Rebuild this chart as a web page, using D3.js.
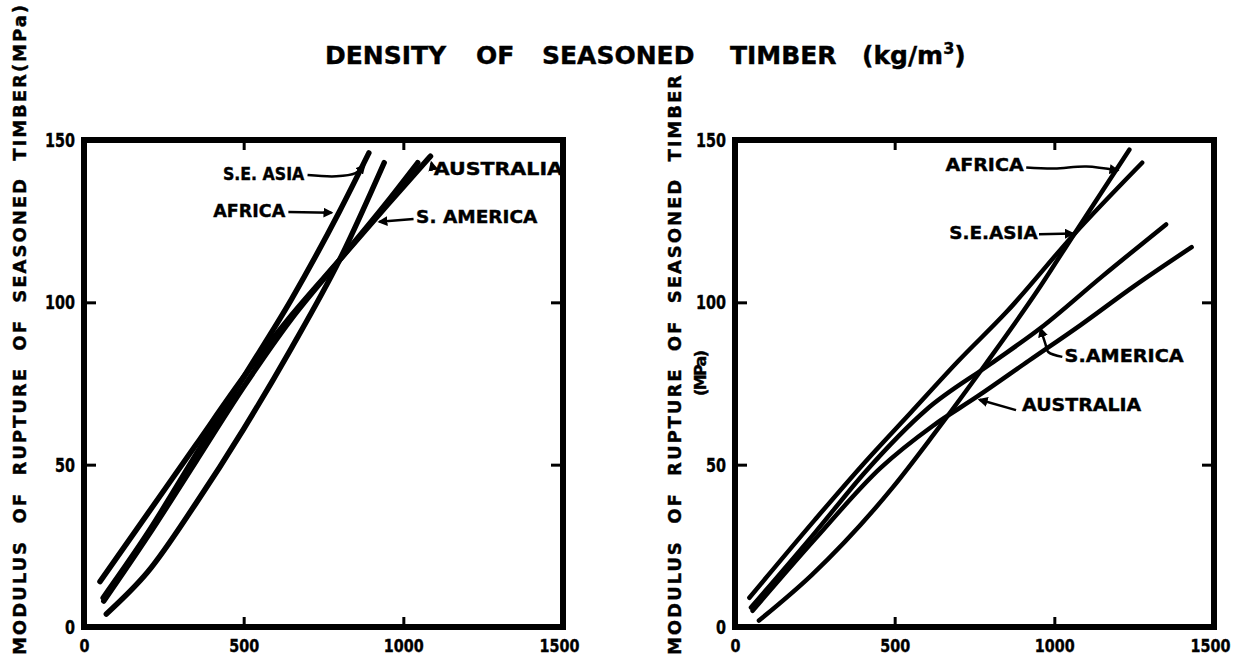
<!DOCTYPE html>
<html>
<head>
<meta charset="utf-8">
<script src="https://cdn.jsdelivr.net/npm/d3@7"></script>
<style>
  body { margin: 0; background: #fff; }
  text { font-family: "DejaVu Sans", "Liberation Sans", sans-serif; font-weight: bold; fill: #000; stroke: #000; stroke-width: 0.4; }
</style>
</head>
<body>
<div id="chart"></div>
<script>
// axis values
const densityTicks = [0, 500, 1000, 1500];
const morTicks = [0, 50, 100, 150];

// left panel: [density kg/m3, modulus of rupture MPa]
const leftAfrica = [[70, 4], [200, 17], [350, 38], [500, 61], [650, 86], [800, 113], [940, 143]];
const leftSeAsia = [[60, 9], [200, 29], [350, 53], [500, 77], [650, 101], [800, 128], [892, 146]];
const leftSAmerica = [[62, 8], [200, 28], [350, 51], [500, 74], [650, 95], [800, 113], [950, 131], [1045, 143]];
const leftAustralia = [[50, 14], [200, 35], [350, 56], [500, 77], [650, 96], [800, 113], [950, 130], [1085, 145]];

// right panel
const rightAfrica = [[75, 2], [240, 16], [494, 43], [620, 59], [785, 81], [950, 104], [1062, 121], [1235, 147]];
const rightSeAsia = [[45, 9], [250, 33], [400, 50], [550, 66], [700, 82], [850, 97], [1062, 121], [1275, 143]];
const rightSAmerica = [[50, 6], [250, 29], [410, 48], [600, 67], [800, 81], [956, 92], [1150, 108], [1350, 124]];
const rightAustralia = [[55, 5], [250, 27], [456, 49], [620, 62], [759, 71], [920, 82], [1082, 93], [1250, 105], [1430, 117]];

// region labels, in data units (start density, end density, MOR)
const leftLabels = [
  { text: "S.E. ASIA", d0: 435, d1: 690, v: 139.6 },
  { text: "AFRICA", d0: 405, d1: 630, v: 128.3 },
  { text: "AUSTRALIA", d0: 1095, d1: 1500, v: 141.2 },
  { text: "S. AMERICA", d0: 1040, d1: 1420, v: 126.3 }
];
const leftPointers = [
  [[700, 139.2], [790, 138.8], [850, 139.8], [878, 142.2]],
  [[640, 127.8], [775, 127.6]],
  [[1092, 141.4], [1088, 143]],
  [[1032, 125.7], [925, 124.8]]
];
const rightLabels = [
  { text: "AFRICA", d0: 659, d1: 904, v: 142.3 },
  { text: "S.E.ASIA", d0: 671, d1: 948, v: 121.4 },
  { text: "S.AMERICA", d0: 1032, d1: 1405, v: 83.7 },
  { text: "AUSTRALIA", d0: 899, d1: 1272, v: 68.4 }
];
const rightPointers = [
  [[912, 141.5], [1000, 141.2], [1100, 141.8], [1198, 140.6]],
  [[952, 121], [1058, 121.2]],
  [[1025, 83.2], [981, 84.7], [972, 87.2], [957, 91.8]],
  [[880, 66.8], [766, 70]]
];

const width = 1237, height = 659;
const svg = d3.select("#chart").append("svg")
  .attr("width", width)
  .attr("height", height);

svg.append("defs").append("marker")
  .attr("id", "arrow")
  .attr("viewBox", "0 0 10 10")
  .attr("refX", 8).attr("refY", 5)
  .attr("markerWidth", 4).attr("markerHeight", 4)
  .attr("orient", "auto")
  .append("path")
  .attr("d", "M0,0L10,5L0,10z")
  .attr("fill", "#000");

const y = d3.scaleLinear().domain([0, 150]).range([627, 140]);

function drawPanel(xRange, series, labels, pointers, lineWidth) {
  const x = d3.scaleLinear().domain([0, 1500]).range(xRange);
  const g = svg.append("g");

  const styleAxis = sel => {
    sel.select(".domain").remove();
    sel.selectAll("line").attr("stroke", "#000").attr("stroke-width", 3);
  };

  // left axis with labels, inward ticks
  g.append("g")
    .attr("transform", `translate(${x(0)},0)`)
    .call(d3.axisLeft(y).tickValues(morTicks).tickSize(-12).tickPadding(9).tickFormat(d3.format("d")))
    .call(styleAxis)
    .selectAll("text")
    .attr("font-size", 20)
    .attr("textLength", d => String(d).length * 10)
    .attr("lengthAdjust", "spacingAndGlyphs");

  // bottom axis with labels
  g.append("g")
    .attr("transform", `translate(0,${y(0)})`)
    .call(d3.axisBottom(x).tickValues(densityTicks).tickSize(-10).tickPadding(12).tickFormat(d3.format("d")))
    .call(styleAxis)
    .selectAll("text")
    .attr("font-size", 18)
    .attr("dx", d => d === 1500 ? -4 : 0)
    .attr("textLength", d => String(d).length * 10)
    .attr("lengthAdjust", "spacingAndGlyphs");

  // top and right: ticks only
  g.append("g")
    .attr("transform", `translate(0,${y(150)})`)
    .call(d3.axisTop(x).tickValues([500, 1000]).tickSize(-10).tickFormat(""))
    .call(styleAxis);
  g.append("g")
    .attr("transform", `translate(${x(1500)},0)`)
    .call(d3.axisRight(y).tickValues([50, 100]).tickSize(-12).tickFormat(""))
    .call(styleAxis);

  // frame
  g.append("rect")
    .attr("x", x(0))
    .attr("y", y(150))
    .attr("width", x(1500) - x(0))
    .attr("height", y(0) - y(150))
    .attr("fill", "none")
    .attr("stroke", "#000")
    .attr("stroke-width", 6);

  const line = d3.line()
    .x(d => x(d[0]))
    .y(d => y(d[1]))
    .curve(d3.curveMonotoneX);

  g.selectAll(".series")
    .data(series)
    .enter()
    .append("path")
    .attr("class", "series")
    .attr("d", line)
    .attr("fill", "none")
    .attr("stroke", "#000")
    .attr("stroke-width", lineWidth)
    .attr("stroke-linecap", "round");

  const pointerLine = d3.line()
    .x(d => x(d[0]))
    .y(d => y(d[1]))
    .curve(d3.curveCatmullRom);

  g.selectAll(".pointer")
    .data(pointers)
    .enter()
    .append("path")
    .attr("class", "pointer")
    .attr("d", pointerLine)
    .attr("fill", "none")
    .attr("stroke", "#000")
    .attr("stroke-width", 2.5)
    .attr("marker-end", "url(#arrow)");

  g.selectAll(".region-label")
    .data(labels)
    .enter()
    .append("text")
    .attr("class", "region-label")
    .attr("x", d => x(d.d0))
    .attr("y", d => y(d.v))
    .attr("dy", "0.36em")
    .attr("font-size", 18)
    .attr("textLength", d => x(d.d1) - x(d.d0))
    .attr("lengthAdjust", "spacingAndGlyphs")
    .text(d => d.text);
}

drawPanel([84, 563], [leftAfrica, leftSeAsia, leftSAmerica, leftAustralia], leftLabels, leftPointers, 5.5);
drawPanel([735, 1214], [rightAfrica, rightSeAsia, rightSAmerica, rightAustralia], rightLabels, rightPointers, 4.5);

// title
const title = svg.append("text")
  .attr("y", 64)
  .attr("font-size", 25);
[["DENSITY", 325], ["OF", 476], ["SEASONED", 542], ["TIMBER", 730]].forEach(([w, xPos]) => {
  title.append("tspan").attr("x", xPos).text(w);
});
title.append("tspan").attr("x", 862).text("(kg/m");
title.append("tspan").attr("font-size", 16).attr("dy", -10).text("3");
title.append("tspan").attr("dy", 10).text(")");

// rotated y-axis titles, spread along the axis
function axisTitle(xBase, yBottom, yTop, str, size) {
  svg.append("text")
    .attr("transform", `translate(${xBase},${yBottom}) rotate(-90)`)
    .attr("font-size", size)
    .attr("textLength", yBottom - yTop)
    .attr("lengthAdjust", "spacing")
    .style("white-space", "pre")
    .text(str);
}
axisTitle(26, 655, 5, "MODULUS  OF  RUPTURE  OF  SEASONED  TIMBER(MPa)", 18);
axisTitle(681, 655, 75, "MODULUS  OF  RUPTURE  OF  SEASONED  TIMBER", 18);
axisTitle(706, 396, 350, "(MPa)", 16);
</script>
</body>
</html>
